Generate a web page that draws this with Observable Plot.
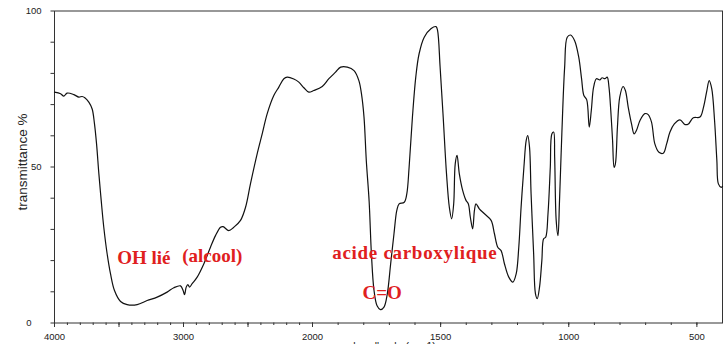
<!DOCTYPE html>
<html>
<head>
<meta charset="utf-8">
<script src="https://cdn.jsdelivr.net/npm/d3@7"></script>
<script src="https://cdn.jsdelivr.net/npm/@observablehq/plot@0.6"></script>
<style>
  html, body { margin: 0; padding: 0; background: #fff; overflow: hidden; }
</style>
</head>
<body>
<div id="chart"></div>
<script>
// Wavenumbers (cm-1) and transmittance (%)
const wavenumbers = [
  4000, 3953, 3928, 3902, 3850, 3811, 3786, 3765, 3734, 3708, 3690, 3674, 3656, 3638, 3618, 3592,
  3566, 3535, 3488, 3437, 3359, 3282, 3204, 3127, 3075, 3023, 3003, 2992, 2979, 2966, 2953, 2933,
  2894, 2842, 2791, 2752, 2713, 2693, 2649, 2610, 2558, 2519, 2481, 2429, 2390, 2351, 2300, 2261,
  2222, 2196, 2145, 2106, 2067, 2029, 1995, 1962, 1936, 1910, 1890, 1864, 1838, 1819, 1809, 1799,
  1790, 1779, 1770, 1760, 1748, 1735, 1721, 1708, 1695, 1682, 1671, 1662, 1642, 1632, 1623, 1610,
  1597, 1584, 1564, 1538, 1518, 1512, 1502, 1490, 1477, 1466, 1457, 1449, 1443, 1436, 1427, 1414,
  1401, 1392, 1384, 1375, 1368, 1362, 1349, 1329, 1303, 1290, 1277, 1264, 1251, 1234, 1218, 1205,
  1195, 1186, 1175, 1166, 1160, 1153, 1147, 1137, 1130, 1123, 1114, 1105, 1098, 1090, 1081, 1072,
  1066, 1059, 1055, 1049, 1042, 1036, 1027, 1016, 1006, 993, 977, 961, 950, 941, 930, 920,
  912, 903, 892, 879, 870, 859, 850, 843, 836, 829, 823, 818, 810, 801, 788, 779,
  768, 755, 745, 736, 722, 703, 690, 677, 664, 648, 631, 618, 605, 588, 566, 546,
  533, 514, 488, 474, 461, 452, 442, 431, 422, 416, 405, 400
];
const transmittance = [
  74.0, 73.5, 72.7, 73.7, 73.2, 72.4, 72.6, 72.2, 70.8, 68.6, 63.8, 57.4, 47.8, 39.3, 30.7, 22.2,
  15.8, 10.4, 6.9, 5.9, 5.9, 7.2, 8.3, 9.9, 11.3, 11.9, 10.4, 9.1, 11.5, 12.3, 11.5, 12.6,
  14.7, 19.0, 24.3, 28.0, 30.7, 30.9, 29.6, 30.7, 32.9, 37.1, 44.6, 54.2, 60.6, 67.1, 72.9, 75.6,
  78.3, 78.8, 78.2, 77.2, 75.4, 74.0, 74.5, 75.8, 78.3, 80.4, 82.0, 82.0, 80.9, 77.7, 73.5, 66.0,
  52.0, 39.0, 22.0, 10.5, 5.5, 4.3, 5.1, 9.4, 19.0, 28.6, 36.1, 38.2, 38.7, 41.4, 49.9, 66.0,
  78.8, 86.3, 91.6, 94.3, 95.0, 93.8, 82.0, 66.0, 47.8, 37.1, 33.4, 38.2, 51.0, 53.7, 47.8, 42.5,
  39.3, 38.2, 33.9, 30.2, 36.1, 38.2, 36.6, 35.0, 32.9, 28.6, 24.3, 23.2, 19.0, 14.7, 13.1, 15.8,
  24.3, 37.1, 49.9, 58.5, 60.1, 56.3, 41.4, 22.2, 9.4, 7.8, 11.5, 20.0, 27.0, 27.5, 35.0, 49.9,
  60.6, 61.2, 53.2, 32.9, 28.0, 39.3, 60.6, 82.0, 91.6, 92.3, 90.5, 85.2, 78.3, 72.9, 71.6, 62.8,
  68.1, 75.6, 78.3, 77.9, 78.6, 78.3, 78.8, 75.6, 68.1, 58.5, 49.9, 51.0, 62.8, 72.4, 75.8, 74.5,
  69.2, 63.8, 60.6, 61.7, 64.9, 67.1, 66.8, 64.4, 57.4, 54.7, 54.4, 57.4, 61.2, 63.8, 65.1, 63.6,
  63.8, 65.8, 66.0, 69.2, 74.5, 77.7, 75.1, 64.9, 52.1, 44.6, 43.5, 43.8
];

// Axis ticks
const xLabelTicks = [4000, 3000, 2000, 1500, 1000, 500];
const xMajorTicks = [4000, 3500, 3000, 2500, 2000, 1500, 1000, 500];
const xMinorTicks = d3.range(500, 4001, 100);
const yLabelTicks = [100, 50];
const yZeroTick = [0];
const yMinorTicks = [0, 10, 20, 30, 40, 50, 60, 70, 80, 90, 100];

// Annotations (text and anchor in data coordinates)
const annotationText = ["OH lié", "(alcool)", "acide carboxylique", "C=O"];
const annotationWn = [3514, 3010, 1923, 1805];
const annotationT = [20.8, 21.6, 22.4, 9.8];

const yTitle = "transmittance %";
const xTitle = "nombre d'onde (cm-1)";

const spectrum = wavenumbers.map((w, i) => ({wn: w, t: transmittance[i]}));
const annotations = annotationText.map((s, i) => ({text: s, wn: annotationWn[i], t: annotationT[i]}));

const chart = Plot.plot({
  width: 728,
  height: 344,
  marginLeft: 54,
  marginRight: 6,
  marginTop: 10.5,
  marginBottom: 21.5,
  style: {fontFamily: "'Liberation Sans', Arial, sans-serif", fontSize: "9.5px", color: "#222", background: "#fff", overflow: "visible"},
  x: {type: "linear", domain: [4000, 2000, 400], range: [54, 312, 722]},
  y: {domain: [0, 100], range: [322.5, 10.5]},
  marks: [
    Plot.axisX({ticks: xMinorTicks, tickSize: 2.5, text: null, label: null, stroke: "#333"}),
    Plot.axisX({ticks: xMajorTicks, tickSize: 4.5, text: null, label: null, stroke: "#333"}),
    Plot.axisX({ticks: xLabelTicks, tickSize: 0, tickPadding: 10, tickFormat: "d", label: null, fill: "#222"}),
    Plot.axisY({ticks: yMinorTicks, tickSize: 3.5, text: null, label: null, stroke: "#333"}),
    Plot.axisY({ticks: yLabelTicks, tickSize: 0, tickPadding: 13, tickFormat: "d", label: null, fill: "#222"}),
    Plot.axisY({ticks: yZeroTick, tickSize: 0, tickPadding: 23, tickFormat: "d", label: null, fill: "#222"}),
    Plot.frame({stroke: "#333", strokeWidth: 1}),
    Plot.line(spectrum, {x: "wn", y: "t", stroke: "#111", strokeWidth: 1.2, curve: "catmull-rom"}),
    Plot.text(annotations, {
      x: "wn", y: "t", text: "text", textAnchor: "start", lineAnchor: "middle",
      fill: "#e0201e", fontSize: 19, fontWeight: "bold",
      fontFamily: "'Liberation Serif', 'Times New Roman', serif"
    }),
    Plot.text([yTitle], {frameAnchor: "left", textAnchor: "middle", rotate: -90, dx: -32, dy: -5, fontSize: 13.5, fill: "#222"}),
    Plot.text([{label: xTitle, wn: 1720}], {x: "wn", text: "label", frameAnchor: "bottom", lineAnchor: "top", dy: 19.5, fontSize: 10.5, fill: "#222"})
  ]
});
d3.select(chart).selectAll("text")
  .filter(function () { return this.textContent === "acide carboxylique"; })
  .style("letter-spacing", "0.7px");
document.getElementById("chart").appendChild(chart);
</script>
</body>
</html>
